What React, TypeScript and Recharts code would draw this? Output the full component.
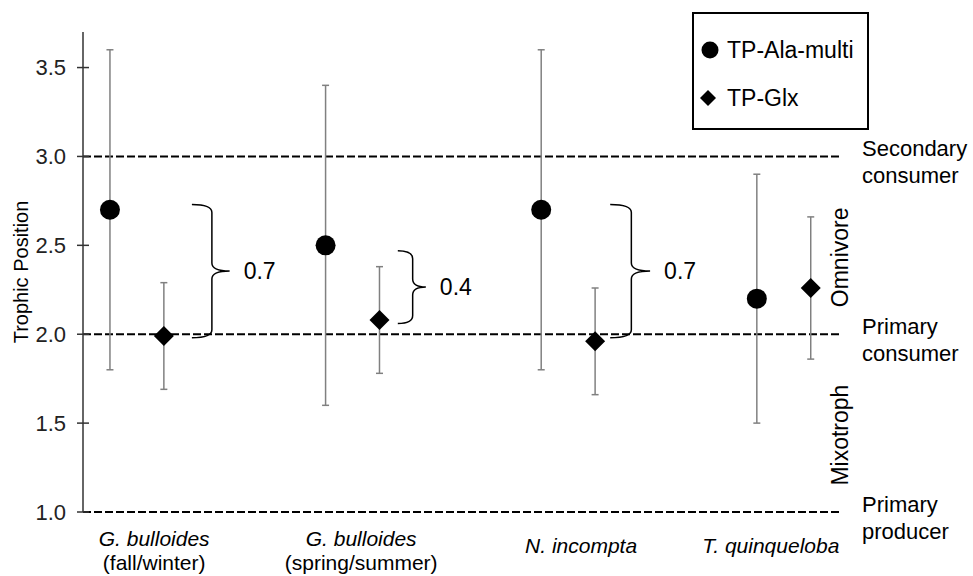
import { ErrorBar, Legend, ReferenceArea, ReferenceLine, Scatter, ScatterChart, XAxis, YAxis } from "recharts";

const FONT = "'Liberation Sans', Arial, sans-serif";

// species groups, left to right
const categories = [
  ["G. bulloides", "(fall/winter)"],
  ["G. bulloides", "(spring/summer)"],
  ["N. incompta"],
  ["T. quinqueloba"]
];
const categoryX = [1, 2, 3, 4];
const labelTicks = [1.08, 2.04, 3.06, 3.94];

const alaMean = [2.7, 2.5, 2.7, 2.2];
const alaLow = [1.8, 1.6, 1.8, 1.5];
const alaHigh = [3.6, 3.4, 3.6, 2.9];

const glxMean = [1.99, 2.08, 1.96, 2.26];
const glxLow = [1.69, 1.78, 1.66, 1.86];
const glxHigh = [2.29, 2.38, 2.26, 2.66];

const yTicks = [1, 1.5, 2, 2.5, 3, 3.5];

// trophic levels drawn as dashed lines
const levelValues = [3, 2, 1];
const levelNames = [
  ["Secondary", "consumer"],
  ["Primary", "consumer"],
  ["Primary", "producer"]
];

const zoneLow = [2, 1];
const zoneHigh = [3, 2];
const zoneNames = ["Omnivore", "Mixotroph"];

// difference braces
const braceX1 = [1.255, 2.21, 3.195];
const braceX2 = [1.43, 2.34, 3.38];
const braceTop = [2.73, 2.47, 2.73];
const braceBottom = [1.98, 2.06, 1.98];
const braceLabels = ["0.7", "0.4", "0.7"];

const offset = 0.125;
const alaData = categoryX.map((c, i) => ({
  x: c - offset,
  y: alaMean[i],
  err: [alaMean[i] - alaLow[i], alaHigh[i] - alaMean[i]]
}));
const glxData = categoryX.map((c, i) => ({
  x: c + offset,
  y: glxMean[i],
  err: [glxMean[i] - glxLow[i], glxHigh[i] - glxMean[i]]
}));

function Dot(props: any) {
  return <circle cx={props.cx} cy={props.cy} r={10} fill="#000" />;
}

function Diamond(props: any) {
  const { cx, cy } = props;
  const s = 10;
  return <path d={`M${cx},${cy - s}L${cx + s},${cy}L${cx},${cy + s}L${cx - s},${cy}Z`} fill="#000" />;
}

function Brace(props: any) {
  const { x, y, width, height, text } = props;
  const xv = x + width * 0.53;
  const xt = x + width;
  const mid = y + height / 2;
  const bot = y + height;
  const r = 8;
  const d = `M${x},${y} Q${xv},${y} ${xv},${y + r} L${xv},${mid - r} Q${xv},${mid} ${xt},${mid} Q${xv},${mid} ${xv},${mid + r} L${xv},${bot - r} Q${xv},${bot} ${x},${bot}`;
  return (
    <g>
      <path d={d} fill="none" stroke="#000" strokeWidth={1.5} />
      <text x={xt + 14} y={mid} dy="0.35em" fontSize={23} fontFamily={FONT} fill="#000">
        {text}
      </text>
    </g>
  );
}

function YTick(props: any) {
  const { x, y, payload } = props;
  return (
    <g>
      <line x1={x - 6} x2={x + 6} y1={y} y2={y} stroke="#333" strokeWidth={1.5} />
      <text x={x - 17} y={y} dy="0.35em" textAnchor="end" fontSize={22} fontFamily={FONT} fill="#222">
        {Number(payload.value).toFixed(1)}
      </text>
    </g>
  );
}

function XTick(props: any) {
  const { x, y, payload } = props;
  const lines = categories[labelTicks.indexOf(payload.value)] || [];
  const first = lines.length > 1 ? 34 : 41;
  return (
    <text x={x} y={y} textAnchor="middle" fontSize={21} fontFamily={FONT} fill="#000">
      {lines.map((line, i) => (
        <tspan key={i} x={x} y={y + first + i * 24} fontStyle={i === 0 ? "italic" : "normal"}>
          {line}
        </tspan>
      ))}
    </text>
  );
}

function LegendBox(props: any) {
  const items = props.payload || [];
  return (
    <svg width={177} height={118}>
      <rect x={1} y={1} width={175} height={116} fill="#fff" stroke="#000" strokeWidth={2} />
      {items.map((item: any, i: number) => {
        const cy = 38 + i * 48;
        return (
          <g key={item.value}>
            {i === 0 ? <circle cx={18} cy={cy} r={8.5} fill="#000" /> : <path d={`M16,${cy - 8}L24,${cy}L16,${cy + 8}L8,${cy}Z`} fill="#000" />}
            <text x={35} y={cy} dy="0.35em" fontSize={23} fontFamily={FONT} fill="#000">
              {item.value}
            </text>
          </g>
        );
      })}
    </svg>
  );
}

export default function App() {
  return (
    <div style={{ position: "absolute", left: 0, top: 0, width: 973, height: 576, background: "#fff" }}>
      <ScatterChart width={973} height={576} margin={{ top: 32, right: 131, bottom: 0, left: 0 }}>
        <XAxis
          type="number"
          dataKey="x"
          domain={[0.75, 4.27]}
          ticks={labelTicks}
          interval={0}
          allowDataOverflow
          axisLine={false}
          tickLine={false}
          tickSize={0}
          tickMargin={0}
          height={64}
          tick={<XTick />}
        />
        <YAxis
          type="number"
          dataKey="y"
          domain={[1, 3.7]}
          ticks={yTicks}
          allowDataOverflow
          width={83}
          tickLine={false}
          tickSize={0}
          tickMargin={0}
          axisLine={{ stroke: "#333", strokeWidth: 1.5 }}
          tick={<YTick />}
          label={(p: any) => {
            const vb = p.viewBox;
            const cx = vb.x + 21;
            const cy = vb.y + vb.height / 2;
            return (
              <text x={cx} y={cy} dy="0.35em" textAnchor="middle" transform={`rotate(-90, ${cx}, ${cy})`} fontSize={20} fontFamily={FONT} fill="#000">
                Trophic Position
              </text>
            );
          }}
        />
        {zoneNames.map((name, i) => (
          <ReferenceArea
            key={name}
            y1={zoneLow[i]}
            y2={zoneHigh[i]}
            fill="none"
            stroke="none"
            label={(p: any) => {
              const vb = p.viewBox;
              const cx = vb.x + vb.width - 2;
              const cy = vb.y + vb.height / 2 + 12;
              return (
                <text x={cx} y={cy} dy="0.35em" textAnchor="middle" transform={`rotate(-90, ${cx}, ${cy})`} fontSize={23} fontFamily={FONT} fill="#000">
                  {name}
                </text>
              );
            }}
          />
        ))}
        {levelValues.map((v, i) => (
          <ReferenceLine
            key={v}
            y={v}
            stroke="#000"
            strokeWidth={2}
            strokeDasharray="8 3"
            label={(p: any) => {
              const vb = p.viewBox;
              const tx = vb.x + vb.width + 20;
              return (
                <text fontSize={22} fontFamily={FONT} fill="#000">
                  <tspan x={tx} y={vb.y}>{levelNames[i][0]}</tspan>
                  <tspan x={tx} y={vb.y + 27}>{levelNames[i][1]}</tspan>
                </text>
              );
            }}
          />
        ))}
        {braceLabels.map((text, i) => (
          <ReferenceArea
            key={i}
            x1={braceX1[i]}
            x2={braceX2[i]}
            y1={braceBottom[i]}
            y2={braceTop[i]}
            shape={(p: any) => <Brace {...p} text={text} />}
          />
        ))}
        <Scatter name="TP-Ala-multi" data={alaData} fill="#000" shape={<Dot />} isAnimationActive={false}>
          <ErrorBar dataKey="err" direction="y" width={3.5} stroke="#808080" strokeWidth={1.5} />
        </Scatter>
        <Scatter name="TP-Glx" data={glxData} fill="#000" shape={<Diamond />} isAnimationActive={false}>
          <ErrorBar dataKey="err" direction="y" width={3.5} stroke="#808080" strokeWidth={1.5} />
        </Scatter>
        <Legend
          layout="vertical"
          align="center"
          verticalAlign="middle"
          content={<LegendBox />}
          wrapperStyle={{ position: "absolute", left: 692, top: 12, width: 177, height: 118 }}
        />
      </ScatterChart>
    </div>
  );
}
